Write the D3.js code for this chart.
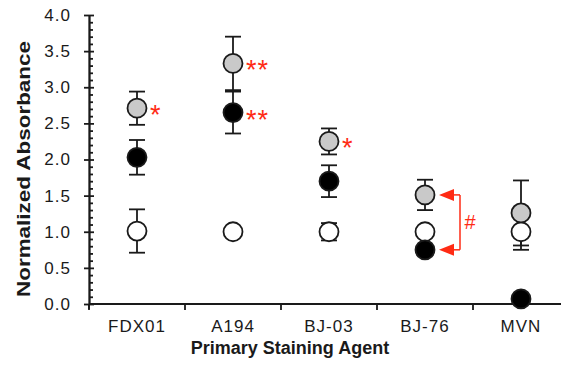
<!DOCTYPE html>
<html>
<head>
<meta charset="utf-8">
<script src="https://cdn.jsdelivr.net/npm/d3@7"></script>
<style>
    body { margin: 0; background: #fff; }
    svg { display: block; font-family: "Liberation Sans", Arial, sans-serif; }
    .axis path, .axis line { stroke: #1a1a1a; stroke-width: 1.8; }
    .axis text { fill: #1a1a1a; font-size: 17px; }
</style>
</head>
<body>
<script>
var categories = ["FDX01", "A194", "BJ-03", "BJ-76", "MVN"];
var grayMeans = [2.71, 3.33, 2.25, 1.51, 1.26];
var grayErr = [0.23, 0.37, 0.18, 0.21, 0.45];
var blackMeans = [2.03, 2.65, 1.70, 0.75, 0.07];
var blackErr = [0.24, 0.29, 0.22, 0.05, 0.03];
var whiteMeans = [1.01, 1.00, 1.00, 1.00, 1.00];
var whiteErr = [0.30, 0.05, 0.12, 0.05, 0.25];
var yTicks = [0, 0.5, 1.0, 1.5, 2.0, 2.5, 3.0, 3.5, 4.0];

// significance marks: category, series, label
var starCats = ["FDX01", "A194", "A194", "BJ-03"];
var starSeries = ["gray", "gray", "black", "gray"];
var starLabels = ["*", "**", "**", "*"];
var bracketCat = "BJ-76";
var bracketLabel = "#";

var width = 561, height = 374;
var margin = { left: 89, top: 15, bottom: 304 };
var red = "#ff2b14";

var svg = d3.select("body").append("svg")
    .attr("width", width)
    .attr("height", height);

var x = d3.scaleBand()
    .domain(categories)
    .range([margin.left, margin.left + categories.length * 96]);

var y = d3.scaleLinear()
    .domain([0, 4])
    .range([margin.bottom, margin.top]);

var series = [
    { name: "white", means: whiteMeans, err: whiteErr, fill: "#ffffff" },
    { name: "black", means: blackMeans, err: blackErr, fill: "#000000" },
    { name: "gray", means: grayMeans, err: grayErr, fill: "#c9c9c9" }
];

// x axis
var xAxis = svg.append("g").attr("class", "axis");
xAxis.append("line")
    .attr("x1", margin.left).attr("x2", width)
    .attr("y1", y(0)).attr("y2", y(0));
xAxis.selectAll(".xtick")
    .data(categories)
    .enter().append("line")
    .attr("class", "xtick")
    .attr("x1", d => x(d)).attr("x2", d => x(d))
    .attr("y1", y(0)).attr("y2", y(0) + 6);
xAxis.selectAll(".xlabel")
    .data(categories)
    .enter().append("text")
    .attr("class", "xlabel")
    .attr("x", d => x(d) + x.bandwidth() / 2)
    .attr("y", y(0) + 28)
    .attr("text-anchor", "middle")
    .style("letter-spacing", "1px")
    .text(d => d);

// y axis: labels + outer half of major ticks
svg.append("g")
    .attr("class", "axis")
    .attr("transform", "translate(" + margin.left + ",0)")
    .call(d3.axisLeft(y).tickValues(yTicks).tickSize(5).tickSizeOuter(0).tickPadding(13)
        .tickFormat(d3.format(".1f")))
    .selectAll("text").style("letter-spacing", "1px");

// inner half of major ticks + minor ticks every 0.1
var minor = d3.range(0, 41).map(i => i / 10).filter(v => Math.round(v * 10) % 5 !== 0);
svg.append("g")
    .attr("class", "axis")
    .attr("transform", "translate(" + margin.left + ",0)")
    .call(d3.axisRight(y).tickValues(yTicks).tickSize(5).tickSizeOuter(0).tickFormat(""));
svg.append("g")
    .attr("class", "axis")
    .attr("transform", "translate(" + margin.left + ",0)")
    .call(d3.axisRight(y).tickValues(minor).tickSize(4).tickSizeOuter(0).tickFormat(""))
    .select(".domain").remove();
svg.append("line")
    .attr("x1", margin.left).attr("x2", margin.left)
    .attr("y1", y(0)).attr("y2", y(0) + 5)
    .attr("stroke", "#1a1a1a").attr("stroke-width", 1.8);

// axis titles
svg.append("text")
    .attr("transform", "translate(30," + 169 + ") rotate(-90)")
    .attr("text-anchor", "middle")
    .attr("font-size", 19)
    .attr("font-weight", "bold")
    .attr("fill", "#1a1a1a")
    .attr("textLength", 256)
    .attr("lengthAdjust", "spacingAndGlyphs")
    .text("Normalized Absorbance");

svg.append("text")
    .attr("x", 290)
    .attr("y", 354)
    .attr("text-anchor", "middle")
    .attr("font-size", 18)
    .attr("font-weight", "bold")
    .attr("fill", "#1a1a1a")
    .text("Primary Staining Agent");

var cx = d => x(d) + x.bandwidth() / 2;
var capW = 8, r = 9.5;

// error bars (behind the markers)
var bars = svg.append("g").attr("stroke", "#1a1a1a").attr("stroke-width", 1.8);
series.forEach(function (s) {
    categories.forEach(function (c, i) {
        var top = y(s.means[i] + s.err[i]), bot = y(s.means[i] - s.err[i]);
        bars.append("line").attr("x1", cx(c)).attr("x2", cx(c)).attr("y1", top).attr("y2", bot);
        bars.append("line").attr("x1", cx(c) - capW).attr("x2", cx(c) + capW).attr("y1", top).attr("y2", top);
        bars.append("line").attr("x1", cx(c) - capW).attr("x2", cx(c) + capW).attr("y1", bot).attr("y2", bot);
    });
});

// markers
series.forEach(function (s) {
    svg.append("g").selectAll("circle")
        .data(categories)
        .enter().append("circle")
        .attr("cx", d => cx(d))
        .attr("cy", (d, i) => y(s.means[i]))
        .attr("r", r)
        .attr("fill", s.fill)
        .attr("stroke", "#1a1a1a")
        .attr("stroke-width", 1.8);
});

// significance stars
function seriesMean(name, cat) {
    var s = series.find(d => d.name === name);
    return s.means[categories.indexOf(cat)];
}
starLabels.forEach(function (lab, i) {
    svg.append("text")
        .attr("x", cx(starCats[i]) + 13)
        .attr("y", y(seriesMean(starSeries[i], starCats[i])) + 16)
        .attr("font-size", 27)
        .attr("fill", red)
        .style("letter-spacing", "1px")
        .text(lab);
});

// bracket between gray and black at BJ-76
var bx = cx(bracketCat);
var yTop = y(seriesMean("gray", bracketCat)), yBot = y(seriesMean("black", bracketCat));
var br = svg.append("g");
[yTop, yBot].forEach(function (yy) {
    br.append("path")
        .attr("d", "M" + (bx + 14) + "," + yy + "L" + (bx + 29) + "," + (yy - 6) + "L" + (bx + 29) + "," + (yy + 6) + "Z")
        .attr("fill", red);
    br.append("line")
        .attr("x1", bx + 29).attr("x2", bx + 35)
        .attr("y1", yy).attr("y2", yy)
        .attr("stroke", red).attr("stroke-width", 1.5);
});
br.append("line")
    .attr("x1", bx + 35).attr("x2", bx + 35)
    .attr("y1", yTop).attr("y2", yBot)
    .attr("stroke", red).attr("stroke-width", 1.5);
br.append("text")
    .attr("x", bx + 45)
    .attr("y", (yTop + yBot) / 2 + 7)
    .attr("text-anchor", "middle")
    .attr("font-size", 20)
    .attr("fill", red)
    .text(bracketLabel);
</script>
</body>
</html>
